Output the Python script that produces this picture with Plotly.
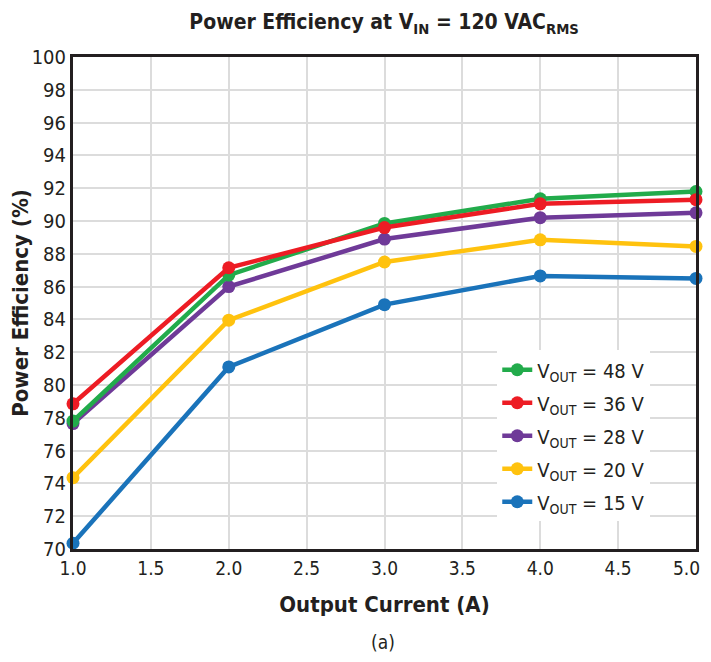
import plotly.graph_objects as go

current = [1.0, 2.0, 3.0, 4.0, 5.0]
eff_48 = [77.8, 86.7, 89.85, 91.35, 91.8]
eff_36 = [78.85, 87.15, 89.6, 91.05, 91.3]
eff_28 = [77.65, 86.0, 88.9, 90.2, 90.5]
eff_20 = [74.35, 83.95, 87.5, 88.85, 88.45]
eff_15 = [70.35, 81.1, 84.9, 86.65, 86.5]

series = [
    ("V<sub>OUT</sub> = 15 V", eff_15, "#1a73ba", 5),
    ("V<sub>OUT</sub> = 20 V", eff_20, "#ffc20e", 4),
    ("V<sub>OUT</sub> = 28 V", eff_28, "#6f3a98", 3),
    ("V<sub>OUT</sub> = 48 V", eff_48, "#22ab4b", 1),
    ("V<sub>OUT</sub> = 36 V", eff_36, "#ed1c24", 2),
]

x_ticks = [1.0, 1.5, 2.0, 2.5, 3.0, 3.5, 4.0, 4.5, 5.0]
x_ticklabels = ["1.0", "1.5", "2.0", "2.5", "3.0", "3.5", "4.0", "4.5", "5.0"]
y_ticks = list(range(70, 101, 2))

FONT = "DejaVu Sans Condensed, Liberation Sans Narrow, sans-serif"
DARK = "#231f20"

fig = go.Figure()
for name, vals, color, rank in series:
    fig.add_trace(go.Scatter(
        x=current, y=vals, name=name, mode="lines+markers",
        line=dict(color=color, width=4.5),
        marker=dict(color=color, size=13),
        legendrank=rank, legendgroup=name, cliponaxis=False,
    ))

# last tick label is drawn as an annotation so it stays inside the window
shown_ticktext = x_ticklabels[:-1] + [""]

fig.update_layout(
    width=703, height=646,
    margin=dict(l=65, r=15, t=49, b=105, autoexpand=False),
    paper_bgcolor="white", plot_bgcolor="white",
    font=dict(family=FONT, color=DARK, size=20),
    title=dict(
        text="<b>Power Efficiency at V<sub>IN</sub> = 120 VAC<sub>RMS</sub></b>",
        x=0.535, xanchor="center", y=0.9783, yanchor="middle",
        font=dict(size=21, family=FONT, color=DARK),
    ),
    showlegend=True,
    legend=dict(
        x=0.681, y=0.404, xanchor="left", yanchor="top",
        bgcolor="white", borderwidth=0,
        font=dict(size=20, family=FONT, color=DARK),
        itemwidth=30, tracegroupgap=4,
    ),
    xaxis=dict(
        range=[1.0, 5.0], tickvals=x_ticks, ticktext=shown_ticktext,
        showgrid=True, gridcolor="#dcdcdc", gridwidth=1.5,
        showline=True, linecolor=DARK, linewidth=3, mirror=True,
        ticks="", zeroline=False, automargin=False,
        tickfont=dict(size=19, family=FONT, color=DARK),
        title=dict(text="<b>Output Current (A)</b>", standoff=19,
                   font=dict(size=22, family=FONT, color=DARK)),
    ),
    yaxis=dict(
        range=[70, 100], tickvals=y_ticks,
        showgrid=True, gridcolor="#dcdcdc", gridwidth=1.5,
        showline=True, linecolor=DARK, linewidth=3, mirror=True,
        ticks="", zeroline=False, automargin=False,
        tickfont=dict(size=20, family=FONT, color=DARK),
        title=dict(text="<b>Power Efficiency (%)</b>", standoff=7,
                   font=dict(size=22, family=FONT, color=DARK)),
    ),
)

fig.add_annotation(
    text=x_ticklabels[-1], xref="x", yref="paper", x=x_ticks[-1], y=0,
    xanchor="right", yanchor="middle", xshift=6, yshift=-19,
    showarrow=False, font=dict(size=19, family=FONT, color=DARK),
)

fig.add_annotation(
    text="(a)", xref="paper", yref="paper", x=0.498, y=-0.19,
    xanchor="center", yanchor="middle", showarrow=False,
    font=dict(size=19, family=FONT, color=DARK),
)

fig.write_html("out.html")
